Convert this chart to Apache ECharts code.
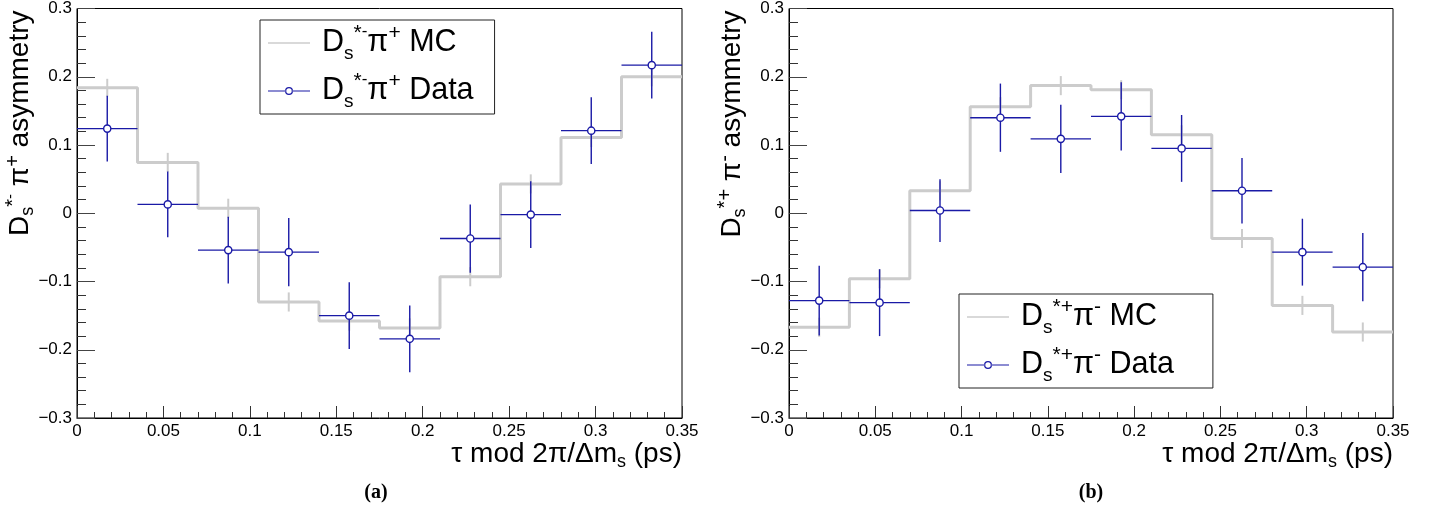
<!DOCTYPE html>
<html>
<head>
<meta charset="utf-8">
<script src="https://cdn.jsdelivr.net/npm/echarts@6/dist/echarts.min.js"></script>
<style>
html,body{margin:0;padding:0;background:#fff;}
#chart{width:1440px;height:515px;}
</style>
</head>
<body>
<div id="chart"></div>
<script>
// ---- data ----
const binEdges = [0, 0.035, 0.07, 0.105, 0.14, 0.175, 0.21, 0.245, 0.28, 0.315, 0.35];
const xTicks = [0, 0.05, 0.1, 0.15, 0.2, 0.25, 0.3, 0.35];
const yTicks = [-0.3, -0.2, -0.1, 0, 0.1, 0.2, 0.3];

// (a) Ds*- pi+
const mcA      = [0.184, 0.0745, 0.0073, -0.130, -0.158, -0.168, -0.093, 0.043, 0.111, 0.200];
const mcAErr   = [0.013, 0.014, 0.014, 0.014, 0.014, 0.014, 0.014, 0.014, 0.014, 0.014];
const dataA    = [0.124, 0.013, -0.054, -0.057, -0.150, -0.184, -0.037, -0.002, 0.121, 0.217];
const dataAErr = [0.048, 0.048, 0.049, 0.050, 0.049, 0.049, 0.050, 0.049, 0.049, 0.049];

// (b) Ds*+ pi-
const mcB      = [-0.167, -0.096, 0.033, 0.156, 0.187, 0.181, 0.115, -0.037, -0.135, -0.174];
const mcBErr   = [0.014, 0.014, 0.014, 0.014, 0.014, 0.014, 0.014, 0.014, 0.014, 0.014];
const dataB    = [-0.128, -0.131, 0.004, 0.140, 0.109, 0.142, 0.095, 0.033, -0.057, -0.079];
const dataBErr = [0.051, 0.049, 0.046, 0.050, 0.050, 0.050, 0.049, 0.048, 0.049, 0.050];

const nameMcA = 'Ds*-π+ MC', nameDataA = 'Ds*-π+ Data';
const nameMcB = 'Ds*+π- MC', nameDataB = 'Ds*+π- Data';
const richLabels = {};
richLabels[nameMcA]   = '{m|D}{sub|s}{sup|*}{sup2|-}{m|π}{sup|+}{m| MC}';
richLabels[nameDataA] = '{m|D}{sub|s}{sup|*}{sup2|-}{m|π}{sup|+}{m| Data}';
richLabels[nameMcB]   = '{m|D}{sub|s}{sup|*+}{m|π}{sup|-}{m| MC}';
richLabels[nameDataB] = '{m|D}{sub|s}{sup|*+}{m|π}{sup|-}{m| Data}';
const yTitleA = '{m|D}{sub|s}{sup|*}{sup2|-}{m| π}{sup|+}{m| asymmetry}';
const yTitleB = '{m|D}{sub|s}{sup|*+}{m| π}{sup|-}{m| asymmetry}';
const xTitle  = '{m|τ mod 2π/Δm}{sub|s}{m| (ps)}';

// ---- styles ----
const FONT = 'Liberation Sans';
const BLUE = '#1a1aa6';
const GREY = '#cccccc';
function richSet(fs, lh) {
  return {
    m:   {fontSize: fs, fontFamily: FONT, color: '#000', lineHeight: lh, verticalAlign: 'middle'},
    sub: {fontSize: Math.round(fs * 0.63), fontFamily: FONT, color: '#000', lineHeight: lh * 0.8, verticalAlign: 'bottom'},
    sup: {fontSize: Math.round(fs * 0.7), fontFamily: FONT, color: '#000', lineHeight: lh * 0.8, verticalAlign: 'top'},
    sup2:{fontSize: Math.round(fs * 0.55), fontFamily: FONT, color: '#000', lineHeight: lh * 0.85, verticalAlign: 'top'}
  };
}
const richTitle = richSet(28, 34);
const richLegend = richSet(30.5, 40);

function fmt(v) {
  const r = Math.round(v * 100) / 100;
  if (r === 0) return '0';
  return (r < 0 ? '\u2212' : '') + String(Math.abs(r));
}

function makeX(gi) {
  return {
    type: 'value', gridIndex: gi, min: 0, max: 0.35, interval: 0.05,
    axisLine: {onZero: false, lineStyle: {color: '#000', width: 1}},
    axisTick: {inside: true, length: 12, lineStyle: {color: '#333'}},
    minorTick: {show: true, splitNumber: 5, length: 6, lineStyle: {color: '#333'}},
    splitLine: {show: false},
    axisLabel: {fontFamily: FONT, fontSize: 17, color: '#000', margin: 5,
                formatter: fmt, showMinLabel: true, showMaxLabel: true},
    name: xTitle, nameLocation: 'end', nameGap: 0,
    nameTextStyle: {align: 'right', verticalAlign: 'top', padding: [19, 0, 0, 0], rich: richTitle}
  };
}
function makeY(gi, title) {
  return {
    type: 'value', gridIndex: gi, min: -0.3, max: 0.3, interval: 0.1,
    axisLine: {onZero: false, lineStyle: {color: '#000', width: 1}},
    axisTick: {inside: true, length: 18, lineStyle: {color: '#444'}},
    minorTick: {show: true, splitNumber: 5, length: 9, lineStyle: {color: '#333'}},
    splitLine: {show: false},
    axisLabel: {fontFamily: FONT, fontSize: 17, color: '#000', margin: 5, formatter: fmt},
    name: title, nameLocation: 'end', nameGap: -2, nameRotate: 90,
    nameTextStyle: {align: 'right', verticalAlign: 'bottom', padding: [0, 0, 40, 0], rich: richTitle}
  };
}

function stepData(vals) {
  const out = [];
  for (let i = 0; i < binEdges.length; i++) {
    out.push([binEdges[i], vals[Math.min(i, vals.length - 1)]]);
  }
  return out;
}
function binData(vals, errs) {
  return vals.map((v, i) => [binEdges[i], binEdges[i + 1], v, errs[i]]);
}

function renderData(params, api) {
  const lo = api.value(0), hi = api.value(1), y = api.value(2), e = api.value(3);
  const mid = (lo + hi) / 2;
  const a = api.coord([lo, y]), b = api.coord([hi, y]);
  const c = api.coord([mid, y]);
  const t = api.coord([mid, y + e]), d = api.coord([mid, y - e]);
  const st = {stroke: BLUE, lineWidth: 1.4};
  return {
    type: 'group',
    children: [
      {type: 'line', shape: {x1: a[0], y1: a[1], x2: b[0], y2: b[1]}, style: st},
      {type: 'line', shape: {x1: t[0], y1: t[1], x2: d[0], y2: d[1]}, style: st},
      {type: 'circle', shape: {cx: c[0], cy: c[1], r: 3.6}, style: {fill: '#fff', stroke: BLUE, lineWidth: 1.4}}
    ]
  };
}
function renderMcErr(params, api) {
  const lo = api.value(0), hi = api.value(1), y = api.value(2), e = api.value(3);
  const mid = (lo + hi) / 2;
  const t = api.coord([mid, y + e]), d = api.coord([mid, y - e]);
  return {type: 'line', shape: {x1: t[0], y1: t[1], x2: d[0], y2: d[1]},
          style: {stroke: GREY, lineWidth: 2}};
}

const ICON_MC = 'path://M0,3.2H42V4.8H0Z';
const ICON_DATA = 'path://M0,3.4H17.4V4.6H0Z M24.6,3.4H42V4.6H24.6Z M17,4A4,4 0 1,0 25,4A4,4 0 1,0 17,4Z M18.3,4A2.7,2.7 0 1,1 23.7,4A2.7,2.7 0 1,1 18.3,4Z';

function makeLegend(left, top, names, padRight) {
  return {
    left: left, top: top, orient: 'vertical',
    backgroundColor: '#fff', borderColor: '#222', borderWidth: 1,
    padding: [3, padRight, 3, 8], itemGap: 8, itemWidth: 42, itemHeight: 8,
    selectedMode: false,
    data: [{name: names[0], icon: ICON_MC}, {name: names[1], icon: ICON_DATA}],
    formatter: n => richLabels[n],
    textStyle: {rich: richLegend, padding: [0, 0, 0, 7]}
  };
}

const chart = echarts.init(document.getElementById('chart'), null, {renderer: 'canvas'});
chart.setOption({
  animation: false,
  backgroundColor: '#fff',
  grid: [
    {left: 77, top: 6, width: 605, height: 412, show: true, borderColor: '#000', borderWidth: 1, containLabel: false},
    {left: 789, top: 6, width: 604, height: 412, show: true, borderColor: '#000', borderWidth: 1, containLabel: false}
  ],
  xAxis: [makeX(0), makeX(1)],
  yAxis: [makeY(0, yTitleA), makeY(1, yTitleB)],
  legend: [makeLegend(260, 20, [nameMcA, nameDataA], 21), makeLegend(959, 294, [nameMcB, nameDataB], 39)],
  title: [
    {text: '(a)', left: 371, top: 478, textAlign: 'center',
     textStyle: {fontFamily: 'Liberation Serif', fontWeight: 'bold', fontSize: 20, color: '#000'}},
    {text: '(b)', left: 1086, top: 478, textAlign: 'center',
     textStyle: {fontFamily: 'Liberation Serif', fontWeight: 'bold', fontSize: 20, color: '#000'}}
  ],
  series: [
    {name: nameMcA, type: 'line', xAxisIndex: 0, yAxisIndex: 0, step: 'end', data: stepData(mcA),
     showSymbol: false, symbol: 'none', color: GREY, lineStyle: {color: GREY, width: 3}, z: 2},
    {name: 'mcErrA', type: 'custom', xAxisIndex: 0, yAxisIndex: 0, data: binData(mcA, mcAErr),
     encode: {x: [0, 1], y: 2}, renderItem: renderMcErr, z: 2},
    {name: nameDataA, type: 'custom', xAxisIndex: 0, yAxisIndex: 0, data: binData(dataA, dataAErr),
     encode: {x: [0, 1], y: 2}, renderItem: renderData, itemStyle: {color: BLUE}, z: 3},

    {name: nameMcB, type: 'line', xAxisIndex: 1, yAxisIndex: 1, step: 'end', data: stepData(mcB),
     showSymbol: false, symbol: 'none', color: GREY, lineStyle: {color: GREY, width: 3}, z: 2},
    {name: 'mcErrB', type: 'custom', xAxisIndex: 1, yAxisIndex: 1, data: binData(mcB, mcBErr),
     encode: {x: [0, 1], y: 2}, renderItem: renderMcErr, z: 2},
    {name: nameDataB, type: 'custom', xAxisIndex: 1, yAxisIndex: 1, data: binData(dataB, dataBErr),
     encode: {x: [0, 1], y: 2}, renderItem: renderData, itemStyle: {color: BLUE}, z: 3}
  ]
});
</script>
</body>
</html>
